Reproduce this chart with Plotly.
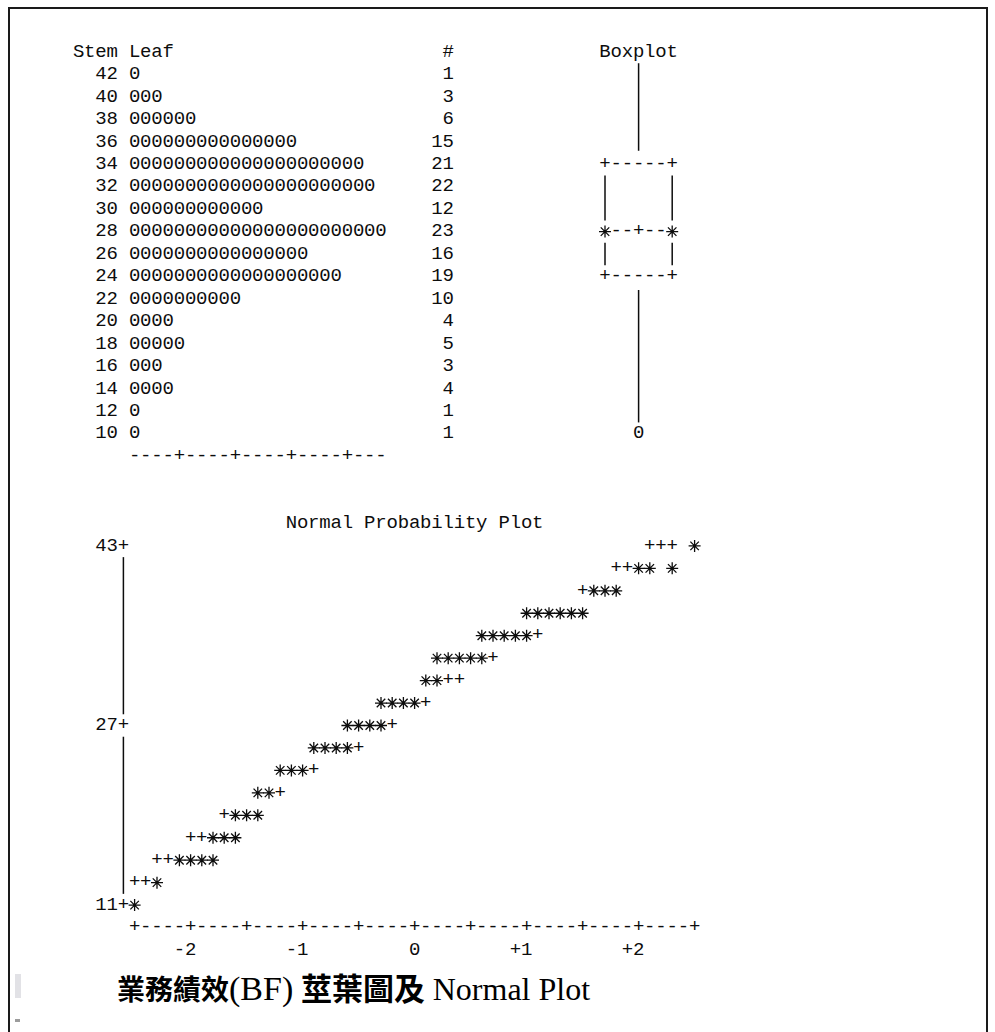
import plotly.graph_objects as go

# ---------------- data ----------------
# Stem-and-leaf display of 業務績效 (BF): stems step by 2, every leaf is 0
stems = [42, 40, 38, 36, 34, 32, 30, 28, 26, 24, 22, 20, 18, 16, 14, 12, 10]
counts = [1, 3, 6, 15, 21, 22, 12, 23, 16, 19, 10, 4, 5, 3, 4, 1, 1]
leaf_digit = "0"

# Character boxplot summary (in stem units)
box_top_whisker = 42
box_q3 = 34
box_median = 28
box_mean = 28
box_q1 = 24
box_low_whisker = 12
box_outliers = [10]

# Normal probability plot: one printed row per value level,
# first normal quantile of the row and its symbols (* = data, + = reference line)
npp_levels = [43, 41, 39, 37, 35, 33, 31, 29, 27, 25, 23, 21, 19, 17, 15, 13, 11]
npp_start_q = [2.1, 1.8, 1.5, 1.0, 0.6, 0.2, 0.1, -0.3, -0.6, -0.9,
               -1.2, -1.4, -1.7, -2.0, -2.3, -2.5, -2.5]
npp_marks = ["+++ *", "++** *", "+***", "******", "*****+", "*****+", "**++",
             "****+", "****+", "****+", "***+", "**+", "+***", "++***",
             "++****", "++*", "*"]
npp_y_ticks = [43, 27, 11]
npp_x_ticks = [-2, -1, 0, 1, 2]
npp_x_labels = ["-2", "-1", "0", "+1", "+2"]
npp_q_limits = (-2.5, 2.5)

# ---------------- character-grid layout ----------------
W, H = 995, 1032
CW, LH = 11.2, 22.45          # character cell width / line height (px)
X0, Y0 = 73.0, 52.0           # left edge of column 0, centre of line 0
MONO = "Liberation Mono, DejaVu Sans Mono, monospace"
INK = "#0d0d0d"
FS = 19

LEAF_COL, COUNT_COL, BOX_COL, BOX_W = 5, 33, 47, 7
STEP = stems[0] - stems[1]
ZERO_COL, COLS_PER_Q = 30, 10
QSTEP = 1.0 / COLS_PER_Q
NPP_LINE = 22
LEVEL_STEP = npp_levels[0] - npp_levels[1]


def axis_range(a, b, span):
    """Value range of an axis on which pixel = a + b * value, over [0, span]."""
    return sorted([(0 - a) / b, (span - a) / b])


top_x = axis_range(X0 + CW / 2, CW, W)
top_y = axis_range(Y0 + LH * (1 + stems[0] / STEP), -LH / STEP, H)
bot_x = axis_range(X0 + CW * (ZERO_COL + 0.5), CW * COLS_PER_Q, W)
bot_y = axis_range(Y0 + LH * (NPP_LINE + npp_levels[0] / LEVEL_STEP), -LH / LEVEL_STEP, H)


class Layer:
    def __init__(self):
        self.tx, self.ty, self.tt = [], [], []
        self.sx, self.sy = [], []
        self.lx, self.ly = [], []

    def put(self, s, start, y, step):
        for i, c in enumerate(s):
            if c == " ":
                continue
            x = start + i * step
            if c == "*":
                self.sx.append(x)
                self.sy.append(y)
            else:
                self.tx.append(x)
                self.ty.append(y)
                self.tt.append(c)

    def line(self, x, y0, y1):
        self.lx += [x, x, None]
        self.ly += [y0, y1, None]

    def traces(self, xa, ya):
        return [
            go.Scatter(x=self.lx, y=self.ly, mode="lines", xaxis=xa, yaxis=ya,
                       line=dict(color=INK, width=1.5), hoverinfo="skip"),
            go.Scatter(x=self.tx, y=self.ty, text=self.tt, mode="text", xaxis=xa, yaxis=ya,
                       textposition="middle center", cliponaxis=False,
                       textfont=dict(family=MONO, size=FS, color=INK), hoverinfo="skip"),
            go.Scatter(x=self.sx, y=self.sy, mode="markers", xaxis=xa, yaxis=ya, cliponaxis=False,
                       marker=dict(symbol="asterisk-open", size=10, color=INK,
                                   line=dict(width=1.3, color=INK)), hoverinfo="skip"),
        ]


# ---------------- stem-and-leaf + boxplot ----------------
top = Layer()
head_y = stems[0] + STEP
top.put("Stem", 0, head_y, 1)
top.put("Leaf", LEAF_COL, head_y, 1)
top.put("#", COUNT_COL, head_y, 1)
top.put("Boxplot", BOX_COL, head_y, 1)
for s, n in zip(stems, counts):
    lab = str(s)
    top.put(lab, LEAF_COL - 1 - len(lab), s, 1)
    top.put(leaf_digit * n, LEAF_COL, s, 1)
    cn = str(n)
    top.put(cn, COUNT_COL - len(cn) + 1, s, 1)
scale = "".join("+" if (i + 1) % 5 == 0 else "-" for i in range(max(counts)))
top.put(scale, LEAF_COL, stems[-1] - STEP, 1)

mid_col = BOX_COL + BOX_W // 2
right_col = BOX_COL + BOX_W - 1
edge = "+" + "-" * (BOX_W - 2) + "+"
top.put(edge, BOX_COL, box_q3, 1)
top.put(edge, BOX_COL, box_q1, 1)
med = list("*" + "-" * (BOX_W - 2) + "*")
if abs(box_mean - box_median) < STEP / 2:
    med[BOX_W // 2] = "+"
else:
    top.put("+", mid_col, box_mean, 1)
top.put("".join(med), BOX_COL, box_median, 1)
for o in box_outliers:
    top.put("0", mid_col, o, 1)
top.line(mid_col, box_q3 + 0.6 * STEP, box_top_whisker + STEP / 2)
top.line(mid_col, box_q1 - 0.6 * STEP, box_low_whisker - STEP / 2)
for c in (BOX_COL, right_col):
    top.line(c, box_q3 - STEP / 2, box_median + STEP / 2)
    top.line(c, box_median - STEP / 2, box_q1 + STEP / 2)

# ---------------- normal probability plot ----------------
bot = Layer()
bot.put("Normal Probability Plot", (19 - ZERO_COL) / COLS_PER_Q, npp_levels[0] + LEVEL_STEP, QSTEP)
axis_q = npp_q_limits[0] - QSTEP
for t in npp_y_ticks:
    lab = f"{t}+"
    bot.put(lab, axis_q - QSTEP * (len(lab) - 1), t, QSTEP)
for a, b in zip(npp_y_ticks[:-1], npp_y_ticks[1:]):
    bot.line(axis_q, a - LEVEL_STEP / 2, b + LEVEL_STEP / 2)
for lvl, q0, m in zip(npp_levels, npp_start_q, npp_marks):
    bot.put(m, q0, lvl, QSTEP)
n_axis = int(round((npp_q_limits[1] - npp_q_limits[0]) / QSTEP)) + 1
axis_str = "".join("+" if i % 5 == 0 else "-" for i in range(n_axis))
axis_level = npp_levels[-1] - LEVEL_STEP
bot.put(axis_str, npp_q_limits[0], axis_level, QSTEP)
for q, lab in zip(npp_x_ticks, npp_x_labels):
    bot.put(lab, q - QSTEP * (len(lab) - 1), axis_level - LEVEL_STEP, QSTEP)

fig = go.Figure(top.traces("x", "y") + bot.traces("x2", "y2"))

title_html = ("<b><span style='font-size:28px'>業務績效</span></b>"
              "<span style='font-size:34px'>(BF)</span> "
              "<b>莖葉圖及</b> <span style='font-size:32px'>Normal Plot</span>")

hidden = dict(visible=False, fixedrange=True, showgrid=False, zeroline=False)
fig.update_layout(
    width=W, height=H, autosize=False,
    margin=dict(l=0, r=0, t=0, b=0, pad=0),
    paper_bgcolor="white", plot_bgcolor="white",
    showlegend=False, hovermode=False,
    xaxis=dict(range=top_x, domain=[0, 1], **hidden),
    yaxis=dict(range=top_y, domain=[0, 1], **hidden),
    xaxis2=dict(range=bot_x, overlaying="x", anchor="y2", **hidden),
    yaxis2=dict(range=bot_y, overlaying="y", anchor="x2", **hidden),
    shapes=[
        dict(type="rect", xref="paper", yref="paper",
             x0=9 / W, x1=987 / W, y0=-0.05, y1=1 - 8 / H,
             line=dict(color="#1a1a1a", width=2), fillcolor="rgba(0,0,0,0)", layer="above"),
        dict(type="rect", xref="paper", yref="paper",
             x0=15 / W, x1=21 / W, y0=1 - 998 / H, y1=1 - 974 / H,
             line=dict(width=0), fillcolor="#e2e2e6"),
        dict(type="rect", xref="paper", yref="paper",
             x0=15 / W, x1=20 / W, y0=1 - 1022 / H, y1=1 - 1019 / H,
             line=dict(width=0), fillcolor="#9c9c9c"),
    ],
    annotations=[
        dict(text=title_html,
             xref="paper", yref="paper", x=115 / W, y=1 - 989 / H,
             xanchor="left", yanchor="middle", showarrow=False,
             font=dict(family="Liberation Serif, Noto Sans CJK TC, serif", size=31, color="#000")),
    ],
)

fig.write_html("out.html")
